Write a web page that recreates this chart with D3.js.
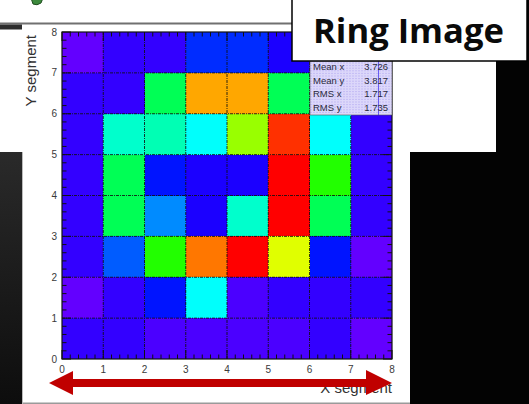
<!DOCTYPE html>
<html><head><meta charset="utf-8">
<script src="https://cdn.jsdelivr.net/npm/d3@7"></script>
<style>html,body{margin:0;padding:0;background:#fff;overflow:hidden}</style>
</head><body>
<svg id="c" width="529" height="404"></svg>
<script>
// Bin edges of the 8x8 segment histogram
const xEdges = [0, 1, 2, 3, 4, 5, 6, 7, 8];
const yEdges = [0, 1, 2, 3, 4, 5, 6, 7, 8];
// Hit counts per segment, one row per y bin (y = 0 first), columns x = 0..7
const row0 = [9, 9, 7, 7, 7, 7, 9, 5];
const row1 = [5, 9, 15, 35, 7, 9, 9, 9];
const row2 = [9, 21, 59, 89, 98, 75, 15, 5];
const row3 = [9, 49, 25, 11, 39, 99, 49, 9];
const row4 = [9, 49, 15, 11, 11, 100, 59, 9];
const row5 = [9, 39, 41, 35, 69, 95, 35, 9];
const row6 = [9, 9, 49, 85, 85, 49, 21, 9];
const row7 = [5, 9, 9, 17, 17, 11, 9, 7];
const counts = [row0, row1, row2, row3, row4, row5, row6, row7];
const countMax = 100;
// Axis tick labels and titles
const xTickLabels = ["0", "1", "2", "3", "4", "5", "6", "7", "8"];
const yTickLabels = ["0", "1", "2", "3", "4", "5", "6", "7", "8"];
const xTitle = "X segment";
const yTitle = "Y segment";
// Statistics box
const statNames = ["Mean x", "Mean y", "RMS x", "RMS y"];
const statValues = ["3.726", "3.817", "1.717", "1.735"];
const banner = "Ring Image";

const svg = d3.select("#c");
const W = 529, H = 404;
const defs = svg.append("defs");
const g1 = defs.append("linearGradient").attr("id", "dark").attr("x1", 0).attr("y1", 0).attr("x2", 0).attr("y2", 1);
g1.append("stop").attr("offset", "0%").attr("stop-color", "#2a2a2a");
g1.append("stop").attr("offset", "100%").attr("stop-color", "#0d0d0d");

// page background
svg.append("rect").attr("width", W).attr("height", H).attr("fill", "#fff");
svg.append("rect").attr("x", 0).attr("y", 152).attr("width", 22).attr("height", H - 152).attr("fill", "url(#dark)");
svg.append("path").attr("d", "M496,0H529V404H410V152H496Z").attr("fill", "#030303");
svg.append("rect").attr("x", 0).attr("y", 22.5).attr("width", 300).attr("height", 2).attr("fill", "#707070");
svg.append("rect").attr("x", 0).attr("y", 24.5).attr("width", 22).attr("height", 5).attr("fill", "#2e2e2e");
svg.append("rect").attr("x", 22).attr("y", 402.5).attr("width", 388).attr("height", 1.5).attr("fill", "#9a9a9a");
svg.append("line").attr("x1", 22.5).attr("x2", 22.5).attr("y1", 152).attr("y2", 404).attr("stroke", "#bbb");
// small logo corner peeking in at the top
svg.append("path").attr("d", "M31,-2 L43,-2 L41,3 Q37,6 33,4 Z").attr("fill", "#3d8a3d").attr("stroke", "#1f4d1f").attr("stroke-width", 1);

// scales
const x = d3.scaleLinear().domain([0, 8]).range([62, 392]);
const y = d3.scaleLinear().domain([0, 8]).range([359, 32]);
const palette = d3.range(50).map(i => d3.hsl(280 - (i + 1) * 5.6, 1, 0.5).formatHex());
const color = d3.scaleQuantize().domain([0, countMax]).range(palette);

// cells
const cells = [];
counts.forEach((row, j) => row.forEach((v, i) => cells.push({ i, j, v })));
svg.append("g").selectAll("rect").data(cells).join("rect")
  .attr("x", d => x(xEdges[d.i]))
  .attr("y", d => y(yEdges[d.j + 1]))
  .attr("width", d => x(xEdges[d.i + 1]) - x(xEdges[d.i]))
  .attr("height", d => y(yEdges[d.j]) - y(yEdges[d.j + 1]))
  .attr("fill", d => color(d.v))
  .attr("shape-rendering", "crispEdges");

// grid
const grid = svg.append("g").attr("stroke", "#111").attr("stroke-width", 1).attr("stroke-dasharray", "3,1,1,1").attr("opacity", 0.85);
xEdges.slice(1, -1).forEach(v => grid.append("line").attr("x1", x(v)).attr("x2", x(v)).attr("y1", y(0)).attr("y2", y(8)));
yEdges.slice(1, -1).forEach(v => grid.append("line").attr("y1", y(v)).attr("y2", y(v)).attr("x1", x(0)).attr("x2", x(8)));

// ticks on all four sides, drawn inwards
const minor = d3.range(0, 8.001, 0.2);
const tk = svg.append("g").attr("stroke", "#111").attr("stroke-width", 1);
minor.forEach(v => {
  const major = Math.abs(v - Math.round(v)) < 1e-6;
  const L = major ? 9 : 4.5;
  tk.append("line").attr("x1", x(0)).attr("x2", x(0) + L).attr("y1", y(v)).attr("y2", y(v));
  tk.append("line").attr("x1", x(8)).attr("x2", x(8) - L).attr("y1", y(v)).attr("y2", y(v));
  tk.append("line").attr("y1", y(0)).attr("y2", y(0) - L).attr("x1", x(v)).attr("x2", x(v));
  tk.append("line").attr("y1", y(8)).attr("y2", y(8) + L).attr("x1", x(v)).attr("x2", x(v));
});
svg.append("rect").attr("x", x(0)).attr("y", y(8)).attr("width", x(8) - x(0)).attr("height", y(0) - y(8))
  .attr("fill", "none").attr("stroke", "#111").attr("stroke-width", 1.2);

// tick labels
const lab = svg.append("g").attr("font-family", "Liberation Sans, Arial, sans-serif").attr("font-size", 10).attr("fill", "#3a3a3a");
lab.selectAll(".yl").data(yTickLabels).join("text")
  .attr("x", 57).attr("y", (d, i) => y(i)).attr("dy", "0.35em").attr("text-anchor", "end").text(d => d);
lab.selectAll(".xl").data(xTickLabels).join("text")
  .attr("x", (d, i) => x(i)).attr("y", 373).attr("text-anchor", "middle").text(d => d);

// axis titles
const at = svg.append("g").attr("font-family", "Liberation Sans, Arial, sans-serif").attr("font-size", 15).attr("fill", "#333");
at.append("text").attr("x", x(8)).attr("y", 393).attr("text-anchor", "end").text(xTitle);
at.append("text").attr("transform", `translate(36,${y(8) + 3}) rotate(-90)`).attr("text-anchor", "end").text(yTitle);

// statistics box
const sb = svg.append("g");
const sx0 = 310, sx1 = 392, sy0 = 61, sy1 = 115;
sb.append("rect").attr("x", sx0).attr("y", sy0).attr("width", sx1 - sx0).attr("height", sy1 - sy0).attr("fill", "#dcd7fa");
d3.range(sy0 + 2, sy1, 2.6).forEach(v => sb.append("line").attr("x1", sx0).attr("x2", sx1).attr("y1", v).attr("y2", v)
  .attr("stroke", "#b4aaf0").attr("stroke-width", 0.6).attr("stroke-dasharray", "2,1"));
sb.append("line").attr("x1", 378.5).attr("x2", 378.5).attr("y1", sy0).attr("y2", sy1).attr("stroke", "#4a3cf0").attr("stroke-width", 0.8);
sb.append("rect").attr("x", sx0).attr("y", sy0).attr("width", sx1 - sx0).attr("height", sy1 - sy0).attr("fill", "none").attr("stroke", "#555").attr("stroke-width", 0.6);
const st = sb.append("g").attr("font-family", "Liberation Sans, Arial, sans-serif").attr("font-size", 9.5).attr("fill", "#2a2a3a");
st.selectAll(".n").data(statNames).join("text").attr("x", 313).attr("y", (d, i) => 70 + i * 13.6).text(d => d);
st.selectAll(".v").data(statValues).join("text").attr("x", 388).attr("y", (d, i) => 70 + i * 13.6).attr("text-anchor", "end").text(d => d);

// banner box
svg.append("rect").attr("x", 292).attr("y", -3).attr("width", 235).attr("height", 64).attr("fill", "#fff").attr("stroke", "#000").attr("stroke-width", 1.5);
const bt = svg.append("text").attr("x", 313).attr("y", 43).attr("font-family", "Open Sans, sans-serif").attr("font-weight", 700)
  .attr("font-size", 34).attr("fill", "#0a0a0a").text(banner);
const bl = bt.node().getComputedTextLength();
bt.attr("font-size", 34 * 191 / bl);

// double-headed arrow under the x axis
svg.append("path")
  .attr("d", "M49,383 L73,371 L73,379 L366,379 L366,370 L392,383 L366,395 L366,387 L73,387 L73,395 Z")
  .attr("fill", "#c00000");
</script>
</body></html>
